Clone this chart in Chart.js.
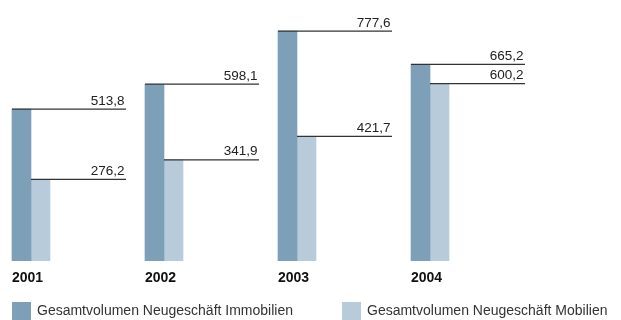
<!DOCTYPE html>
<html lang="de">
<head>
<meta charset="utf-8">
<title>Neugeschäft 2001–2004</title>
<script src="https://cdn.jsdelivr.net/npm/chart.js@4"></script>
<style>
    body { margin: 0; background: #fff; }
    #wrap { position: relative; width: 621px; height: 320px; }
</style>
</head>
<body>
<div id="wrap"><canvas id="volume-chart"></canvas></div>
<script>
const years = ['2001', '2002', '2003', '2004'];
const immobilien = [513.8, 598.1, 777.6, 665.2];
const mobilien = [276.2, 341.9, 421.7, 600.2];
const seriesNames = ['Gesamtvolumen Neugeschäft Immobilien', 'Gesamtvolumen Neugeschäft Mobilien'];
const seriesColors = ['#7d9fb7', '#b7cbda'];

const FONT = '"Liberation Sans", Arial, sans-serif';

function formatValue(v) {
    return v.toFixed(1).replace('.', ',');
}

// leader line from each bar top to the right, value written above its end,
// plus the bold year under every pair of bars
const valueLines = {
    id: 'valueLines',
    afterDatasetsDraw(chart) {
        const ctx = chart.ctx;
        const first = chart.getDatasetMeta(0).data;
        ctx.save();
        chart.data.datasets.forEach((ds, i) => {
            chart.getDatasetMeta(i).data.forEach((bar, j) => {
                const groupLeft = first[j].x - first[j].width / 2;
                const left = bar.x - bar.width / 2;
                const right = groupLeft + bar.width * 6;
                ctx.strokeStyle = '#333';
                ctx.lineWidth = 1.3;
                ctx.beginPath();
                ctx.moveTo(left, bar.y);
                ctx.lineTo(right, bar.y);
                ctx.stroke();

                ctx.fillStyle = '#222';
                ctx.font = '13.5px ' + FONT;
                ctx.textAlign = 'right';
                ctx.textBaseline = 'alphabetic';
                ctx.fillText(formatValue(ds.data[j]), right - 1.5, bar.y - 4.5);
            });
        });

        const base = chart.scales.y.getPixelForValue(0);
        ctx.fillStyle = '#111';
        ctx.font = 'bold 14px ' + FONT;
        ctx.textAlign = 'left';
        first.forEach((bar, j) => {
            ctx.fillText(years[j], bar.x - bar.width / 2, base + 20.5);
        });
        ctx.restore();
    }
};

// legend row along the bottom edge
const legendX = [12, 342];
const bottomLegend = {
    id: 'bottomLegend',
    afterDraw(chart) {
        const ctx = chart.ctx;
        ctx.save();
        ctx.font = '14px ' + FONT;
        ctx.textAlign = 'left';
        ctx.textBaseline = 'middle';
        chart.data.datasets.forEach((ds, i) => {
            ctx.fillStyle = ds.backgroundColor;
            ctx.fillRect(legendX[i], 302, 19, 19);
            ctx.fillStyle = '#333';
            ctx.fillText(ds.label, legendX[i] + 25, 311.5);
        });
        ctx.restore();
    }
};

const ctx = document.getElementById('volume-chart').getContext('2d');
const volumeChart = new Chart(ctx, {
    type: 'bar',
    data: {
        labels: years,
        datasets: [{
            label: seriesNames[0],
            data: immobilien,
            backgroundColor: seriesColors[0],
            borderWidth: 0,
            barThickness: 19
        }, {
            label: seriesNames[1],
            data: mobilien,
            backgroundColor: seriesColors[1],
            borderWidth: 0,
            barThickness: 19
        }]
    },
    options: {
        responsive: true,
        maintainAspectRatio: false,
        animation: false,
        layout: {
            padding: { top: 0, right: 0, bottom: 59, left: 0 }
        },
        plugins: {
            legend: { display: false },
            tooltip: { enabled: false }
        },
        scales: {
            x: {
                type: 'linear',
                display: false,
                offset: false,
                min: 2000.767,
                max: 2005.436
            },
            y: {
                display: false,
                min: 0,
                max: 883
            }
        }
    },
    plugins: [valueLines, bottomLegend]
});
</script>
</body>
</html>
